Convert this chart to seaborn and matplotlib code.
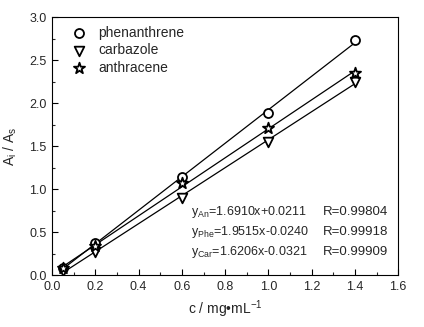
import matplotlib
matplotlib.use("Agg")
import matplotlib.pyplot as plt
import seaborn as sns
import pandas as pd
from matplotlib.ticker import MultipleLocator

# datos
conc = [0.05, 0.2, 0.6, 1.0, 1.4]
phenanthrene = [0.08, 0.37, 1.14, 1.88, 2.73]
carbazole = [0.05, 0.27, 0.90, 1.55, 2.25]
anthracene = [0.08, 0.34, 1.07, 1.71, 2.35]

series_names = ["phenanthrene", "carbazole", "anthracene"]
series_markers = ["o", "v", "*"]
fit_labels = [r"y$_{\mathrm{An}}$=1.6910x+0.0211",
              r"y$_{\mathrm{Phe}}$=1.9515x-0.0240",
              r"y$_{\mathrm{Car}}$=1.6206x-0.0321"]
r_labels = ["R=0.99804", "R=0.99918", "R=0.99909"]

df = pd.DataFrame({"c": conc * 3,
                   "ratio": phenanthrene + carbazole + anthracene,
                   "compound": [n for n in series_names for _ in conc]})

sns.set_theme(style="ticks")
plt.rcParams["font.family"] = ["Liberation Sans", "DejaVu Sans"]
plt.rcParams["mathtext.fontset"] = "custom"
plt.rcParams["mathtext.rm"] = "Liberation Sans"
plt.rcParams["xtick.direction"] = "in"
plt.rcParams["ytick.direction"] = "in"

fig, ax = plt.subplots(figsize=(4.24, 3.27), dpi=100)
fig.subplots_adjust(left=0.123, right=0.939, top=0.948, bottom=0.159)

sizes = {"o": 42, "v": 48, "*": 70}
for name, mk in zip(series_names, series_markers):
    sub = df[df["compound"] == name]
    sns.regplot(data=sub, x="c", y="ratio", ci=None, marker=mk, ax=ax, label=name,
                scatter_kws={"s": sizes[mk], "facecolors": "white", "edgecolors": "black",
                             "linewidths": 1.3, "zorder": 3, "alpha": 1},
                line_kws={"color": "black", "lw": 0.9, "zorder": 2})

ax.set_xlim(0, 1.6)
ax.set_ylim(0, 3.0)
ax.xaxis.set_major_locator(MultipleLocator(0.2))
ax.xaxis.set_minor_locator(MultipleLocator(0.1))
ax.yaxis.set_major_locator(MultipleLocator(0.5))
ax.yaxis.set_minor_locator(MultipleLocator(0.25))
ax.tick_params(which="major", length=4, width=0.8, labelsize=9, color="black", pad=4)
ax.tick_params(which="minor", length=2, width=0.8)
for sp in ax.spines.values():
    sp.set_linewidth(0.8)
    sp.set_color("black")

ax.set_xlabel("c / mg\u2022mL$^{\\mathrm{-1}}$", fontsize=10, labelpad=4)
ax.set_ylabel(r"A$_{\mathrm{i}}$ / A$_{\mathrm{s}}$", fontsize=10, labelpad=7)

leg = ax.legend(loc="upper left", frameon=False, fontsize=10, handlelength=1.0,
                handletextpad=0.9, borderaxespad=0, labelspacing=0.25,
                bbox_to_anchor=(0.042, 0.987))

for i in range(3):
    yy = 0.245 - i * 0.078
    ax.text(0.40, yy, fit_labels[i], transform=ax.transAxes, fontsize=9, va="center")
    ax.text(0.783, yy, r_labels[i], transform=ax.transAxes, fontsize=9.5, va="center")

fig.savefig("out.png", dpi=100)
